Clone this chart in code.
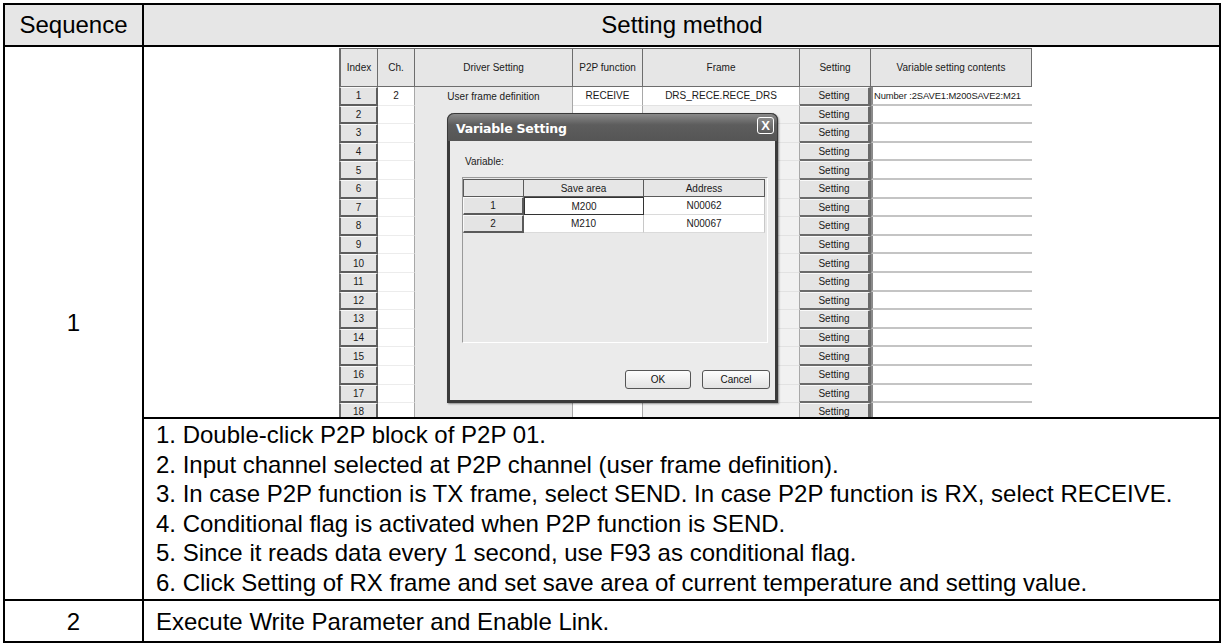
<!DOCTYPE html>
<html><head><meta charset="utf-8">
<script src="https://cdn.jsdelivr.net/npm/chart.js@4/dist/chart.umd.min.js"></script>
<style>
html,body{margin:0;padding:0;background:#fff;}
#page{position:relative;width:1223px;height:644px;overflow:hidden;font-family:"Liberation Sans",Arial,sans-serif;color:#000;}
.a{position:absolute;box-sizing:border-box;}
.big{font-size:24px;white-space:nowrap;}
.sc{font-size:10px;color:#1a1a1a;white-space:nowrap;overflow:hidden;text-align:center;display:flex;align-items:center;justify-content:center;}
</style></head><body><div id="page"></div>
<script>
// ---- content ----
const headerLabels = ["Sequence", "Setting method"];
const sequenceNumbers = ["1", "2"];
const stepLines = [
  "1. Double-click P2P block of P2P 01.",
  "2. Input channel selected at P2P channel (user frame definition).",
  "3. In case P2P function is TX frame, select SEND. In case P2P function is RX, select RECEIVE.",
  "4. Conditional flag is activated when P2P function is SEND.",
  "5. Since it reads data every 1 second, use F93 as conditional flag.",
  "6. Click Setting of RX frame and set save area of current temperature and setting value."
];
const row2Text = "Execute Write Parameter and Enable Link.";
const gridHeaders = ["Index", "Ch.", "Driver Setting", "P2P function", "Frame", "Setting", "Variable setting contents"];
const gridFirstRow = ["1", "2", "User frame definition", "RECEIVE", "DRS_RECE.RECE_DRS", "Setting", "Number :2SAVE1:M200SAVE2:M21"];
const gridIndexLabels = ["1","2","3","4","5","6","7","8","9","10","11","12","13","14","15","16","17","18"];
const settingLabel = "Setting";
const dialogTitle = "Variable Setting";
const dialogLabel = "Variable:";
const dialogHeaders = ["", "Save area", "Address"];
const dialogRows = [["1", "M200", "N00062"], ["2", "M210", "N00067"]];
const dialogButtons = ["OK", "Cancel"];

// ---- helpers ----
const page = document.getElementById('page');
function box(parent, x, y, w, h, css, text, cls) {
  const d = document.createElement('div');
  d.className = 'a' + (cls ? ' ' + cls : '');
  d.style.left = x + 'px'; d.style.top = y + 'px';
  d.style.width = w + 'px'; d.style.height = h + 'px';
  if (css) d.style.cssText += css;
  if (text !== undefined && text !== null) d.textContent = text;
  parent.appendChild(d);
  return d;
}

// ---- outer table geometry ----
const L = 4, R = 1221, T = 4, B = 643, COL = 143, HEAD = 46, SEP = 417, DIV = 600;
box(page, L, T, R - L, HEAD - T, 'background:#e6e6e6');
box(page, L, T, COL - L, HEAD - T, 'display:flex;align-items:center;justify-content:center', headerLabels[0], 'big');
box(page, COL, T, R - COL, HEAD - T, 'display:flex;align-items:center;justify-content:center', headerLabels[1], 'big');
box(page, L, HEAD, COL - L, DIV - HEAD, 'display:flex;align-items:center;justify-content:center', sequenceNumbers[0], 'big');
box(page, L, DIV, COL - L, B - DIV, 'display:flex;align-items:center;justify-content:center', sequenceNumbers[1], 'big');
const stepBox = box(page, 156, SEP + 3, 1062, DIV - SEP - 3, 'line-height:29.5px', null, 'big');
stepLines.forEach(s => { const p = document.createElement('div'); p.textContent = s; stepBox.appendChild(p); });
box(page, 156, DIV, 1062, B - DIV, 'display:flex;align-items:center', row2Text, 'big');

// ---- screenshot ----
const SX = 339, SY = 48, SW = 1032 - 339, SH = SEP - SY;
const shot = box(page, SX, SY, SW, SH, 'overflow:hidden;background:#fff');
const colEdges = [339, 378, 415, 573, 643, 800, 871, 1032].map(v => v - SX);
const headH = 39, rowH = 18.6;
gridHeaders.forEach((h, i) => {
  const x = colEdges[i], w = colEdges[i + 1] - colEdges[i];
  box(shot, x, 0, w, headH, 'background:#e6e6e6;border-right:1px solid #6d6d6d;border-bottom:1px solid #6d6d6d;border-top:1px solid #6d6d6d' + (i === 0 ? ';border-left:2px solid #6d6d6d' : ''), h, 'sc');
});
gridIndexLabels.forEach((lab, r) => {
  const y = headH + r * rowH;
  for (let c = 0; c < 7; c++) {
    const x = colEdges[c], w = colEdges[c + 1] - colEdges[c];
    let css, txt = null;
    if (c === 0) { css = 'background:#e4e4e4;border-left:2px solid #6d6d6d;border-right:2px solid #5d5d5d;border-bottom:2px solid #5d5d5d;border-top:1px solid #fafafa'; txt = lab; }
    else if (c === 1) { css = 'background:#fff;border-right:1px solid #a8a8a8;border-bottom:1px solid #ececec'; }
    else if (c === 2) { css = 'background:#e9e9e9;border-right:1px solid #a8a8a8'; }
    else if (c === 3) { css = 'background:#fff;border-right:1px solid #a8a8a8;border-bottom:1px solid #e6e6e6'; }
    else if (c === 4) { css = (r === 0 ? 'background:#fff;' : 'background:#f1f1f1;') + 'border-right:1px solid #a8a8a8;border-bottom:1px solid #e2e2e2'; }
    else if (c === 5) { css = 'background:#e4e4e4;border-top:1px solid #fafafa;border-right:3px solid #6a6a6a;border-bottom:2px solid #6a6a6a'; txt = settingLabel; }
    else { css = 'background:#fff;border-left:2px solid #8a8a8a;border-bottom:2px solid #c4c4c4;justify-content:flex-start;padding-left:1px;font-size:9.4px;letter-spacing:-0.1px'; }
    if (r === 0 && c > 0 && c !== 5) txt = gridFirstRow[c];
    box(shot, x, y, w, rowH, css, txt, 'sc');
  }
});

// ---- dialog ----
const DX = 447, DY = 113, DW = 778 - 447, DH = 403 - 113;
const dlg = box(page, DX, DY, DW, DH, 'background:#ebebeb;border:3px solid #3a3a3a;border-top:none;border-radius:7px 7px 0 0;box-shadow:1px 1px 2px rgba(0,0,0,0.4)');
box(dlg, -3, 0, DW, 28, 'background:linear-gradient(#8a8a8a,#5d5d5d 40%,#555);border-radius:7px 7px 0 0;border:1px solid #3a3a3a;border-bottom:none');
box(dlg, 6, 4, 200, 22, 'color:#fff;font:bold 12.5px "DejaVu Sans",sans-serif;display:flex;align-items:center;letter-spacing:-0.2px', dialogTitle);
box(dlg, DW - 24, 4, 17, 17, 'border:1px solid #fff;border-radius:3px;background:linear-gradient(#8a8a8a,#5a5a5a);color:#fff;font:bold 13px "Liberation Sans",sans-serif;display:flex;align-items:center;justify-content:center', 'X');
box(dlg, 15, 40, 80, 16, 'font-size:10px;color:#222;display:flex;align-items:center', dialogLabel);
const gx = 12, gy = 64, gw = 306, gh = 166;
const grid = box(dlg, gx, gy, gw, gh, 'border-top:1px solid #9a9a9a;border-left:1px solid #9a9a9a;border-right:1px solid #fff;border-bottom:1px solid #fff;background:#e9e9e9');
const dEdges = [0, 61, 181, 302];
dialogHeaders.forEach((h, i) => {
  box(grid, dEdges[i], 1, dEdges[i + 1] - dEdges[i], 18, 'background:#e6e6e6;border:1px solid #5a5a5a;border-left:' + (i === 0 ? '1px solid #5a5a5a' : 'none'), h, 'sc');
});
dialogRows.forEach((row, r) => {
  const y = 19 + r * 18;
  row.forEach((v, c) => {
    let css;
    if (c === 0) css = 'background:#e4e4e4;border-left:1px solid #fafafa;border-top:1px solid #fafafa;border-right:2px solid #5a5a5a;border-bottom:2px solid #5a5a5a';
    else if (c === 1 && r === 0) css = 'background:#fff;border:1.5px solid #333';
    else css = 'background:#fff;border-right:1px solid #c8c8c8;border-bottom:1px solid #dadada';
    box(grid, dEdges[c], y, dEdges[c + 1] - dEdges[c], 18, css, v, 'sc');
  });
});
[[175, 66], [252, 68]].forEach((b, i) => {
  box(dlg, b[0], 257, b[1], 19, 'border:1px solid #555;border-radius:3px;background:linear-gradient(#fdfdfd,#e2e2e2);font-size:10px;color:#111;display:flex;align-items:center;justify-content:center', dialogButtons[i]);
});

// ---- outer table lines ----
const k = '#000';
box(page, L, T - 1, R - L, 2, 'background:' + k);
box(page, L, HEAD - 1, R - L, 2, 'background:' + k);
box(page, COL, SEP, R - COL, 2, 'background:' + k);
box(page, L, DIV - 1, R - L, 2, 'background:' + k);
box(page, L, B - 2, R - L, 2, 'background:' + k);
box(page, L - 1, T - 1, 2, B - T + 1, 'background:' + k);
box(page, COL - 1, T - 1, 2, B - T + 1, 'background:' + k);
box(page, R - 2, T - 1, 2, B - T + 1, 'background:' + k);
</script>
</body></html>
